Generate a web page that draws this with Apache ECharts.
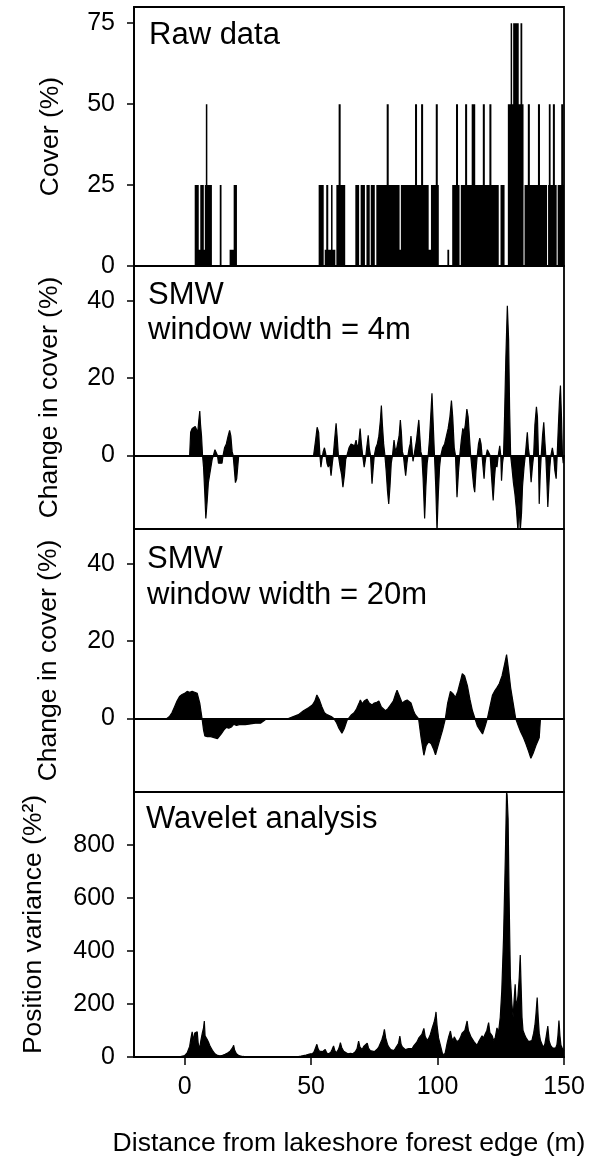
<!DOCTYPE html>
<html>
<head>
<meta charset="utf-8">
<script src="https://cdn.jsdelivr.net/npm/echarts@6/dist/echarts.min.js"></script>
<style>
html,body{margin:0;padding:0;background:#fff;}
#chart{width:589px;height:1162px;}
</style>
</head>
<body>
<div id="chart"></div>
<script>
// ---- axis ticks / labels ----
const distanceTicks = [0, 50, 100, 150];
const coverTicks = [0, 25, 50, 75];
const changeTicks = [0, 20, 40];
const varianceTicks = [0, 200, 400, 600, 800];
const xLabel = 'Distance from lakeshore forest edge (m)';
const yLabels = ['Cover (%)', 'Change in cover (%)', 'Change in cover (%)', 'Position variance (%\u00B2)'];
const panelTitles = [['Raw data'], ['SMW', 'window width = 4m'], ['SMW', 'window width = 20m'], ['Wavelet analysis']];

// ---- raw cover data: [distance where cover class starts, cover %] (held until next entry) ----
const rawCover = [[0,0],[4,25],[5.6,5],[6.2,25],[7.6,5],[8.0,25],[8.4,50],[9.0,25],[10.8,0],[13.9,25],[14.6,0],[17.8,5],[19.4,25],[20.7,0],
[53.0,25],[55.0,0],[55.4,5],[56.0,25],[56.8,5],[57.9,25],[58.5,5],[59.6,0],[60.0,25],[60.9,50],[61.7,25],[63.5,0],
[67.5,25],[69.0,0],[69.6,25],[71.3,0],[71.9,25],[73.2,0],[73.6,25],[75.2,0],[75.8,25],[79.9,50],[80.7,25],[85.0,5],[85.5,25],[91.1,50],[91.9,25],[93.5,50],[94.3,25],[96.5,5],[97.4,25],[99.3,50],[100.1,25],[100.5,0],[103.9,5],[104.6,0],[105.8,25],[107.3,50],[108.1,25],[108.7,0],[109.2,25],[110.9,50],[111.7,25],[113.5,50],[114.9,25],[117.9,50],[118.7,25],[120.5,50],[121.3,25],[124.2,0],[124.9,25],[126.5,0],[127.8,50],[128.9,75],[129.5,50],[129.9,75],[132.1,50],[132.8,75],[133.5,50],[134.0,0],[134.4,25],[135.7,50],[136.5,25],[139.7,50],[140.5,25],[143.3,0],[143.7,25],[144.0,50],[144.7,25],[145.6,50],[146.4,25],[147.1,0],[147.5,25],[148.9,50],[149.7,25],[150,25]];

// ---- SMW, window width 4 m: [distance, change in cover %] ----
const smw4m = [[-20,0],[2.0,0],[2.4,6],[3.0,7],[3.6,6.5],[4.2,7.5],[4.8,8],[5.2,6],[5.6,9],[6.0,11.5],[6.3,8],[6.7,5],[7.1,0],[7.5,-3],[8.0,-10],[8.4,-16.3],[8.9,-12],[9.4,-7],[9.9,-5],[10.4,-3],[10.9,-1],[11.4,0],[12.0,1.5],[12.6,1.5],[13.0,0],[13.4,-2],[14.0,-2],[14.8,-2],[15.2,0],[15.8,2],[16.5,3],[17.2,5],[17.8,6.5],[18.3,5],[18.8,1],[19.2,0],[19.6,-3],[20.1,-7],[20.6,-6],[21.0,-3],[21.4,0],
[51.0,0],[51.8,4],[52.4,7.3],[53.0,6],[53.5,0],[53.9,-3],[54.3,-1],[54.8,1],[55.3,2],[55.8,0.5],[56.3,-2],[56.8,-3],[57.4,-2],[57.9,-5.2],[58.4,-2],[58.8,0],[59.3,4],[59.9,8.3],[60.3,5],[60.8,0],[61.5,-3],[62.1,-5],[62.6,-8.2],[63.2,-5],[63.7,-1],[64.2,0],[65.0,2],[65.8,3],[66.5,3],[67.2,2.5],[67.8,4],[68.3,2],[68.8,3],[69.4,7],[69.9,3],[70.4,0],[71.0,-3],[71.5,-1],[72.0,2],[72.6,5.2],[73.0,2],[73.5,0],[74.1,-7.3],[74.6,-3],[75.0,0],[75.6,2],[76.2,3],[76.8,5],[77.4,9],[77.8,12.9],[78.2,8],[78.7,3],[79.2,0],[79.7,-4],[80.2,-9],[80.7,-12.5],[81.2,-8],[81.7,-2],[82.2,0],[82.8,4],[83.2,2],[83.6,1],[84.2,3],[84.8,5],[85.3,9.2],[85.7,6],[86.1,1],[86.5,0],[87.0,-3],[87.4,-5.2],[87.9,-2],[88.3,0],[88.8,2],[89.2,3],[89.5,5],[89.9,2],[90.3,-1.5],[90.7,0],[91.2,2],[91.7,4],[92.2,7],[92.6,9.2],[93.0,5],[93.4,1],[93.8,0],[94.3,-6],[94.9,-16.3],[95.4,-8],[95.9,-2],[96.3,0],[96.8,4],[97.3,10],[97.8,16.1],[98.3,8],[98.8,0],[99.3,-8],[99.8,-19.5],[100.3,-10],[100.8,-3],[101.3,0],[102.0,2],[102.8,3],[103.5,5],[104.2,7],[104.9,10],[105.5,14.2],[106.0,10],[106.6,2],[107.1,0],[107.7,-10.8],[108.3,-4],[108.8,0],[109.4,4],[110.0,7],[110.5,6],[111.0,8],[111.6,12],[112.1,10],[112.6,5],[113.1,0],[113.7,-4],[114.3,-8],[114.7,-9.5],[115.2,-4],[115.7,0],[116.2,3],[116.7,4.5],[117.2,3],[117.6,0],[118.0,-3],[118.4,-6],[118.8,-2],[119.2,0],[119.7,1.5],[120.3,1],[120.8,0],[121.4,-6],[122.0,-11.6],[122.5,-6],[123.0,-2],[123.5,-3],[124.0,0],[124.6,2.5],[125.0,0],[125.3,-6.5],[125.7,-2],[126.1,0],[126.5,10],[127.0,25],[127.6,38.7],[128.1,30],[128.5,12],[128.9,0],[129.4,-3],[130.0,-7],[130.6,-10],[131.2,-14],[131.8,-19.5],[132.2,-12],[132.7,-19.5],[133.2,-15],[133.6,-8],[134.2,-3],[134.7,0],[135.1,3],[135.5,6],[135.9,2],[136.3,0],[137.0,-6.9],[137.5,-3],[138.0,0],[138.5,8],[139.1,12.6],[139.5,10],[139.9,0],[140.2,-12.5],[140.6,-5],[141.0,0],[141.5,5],[142.0,8.6],[142.4,4],[142.8,0],[143.2,-6],[143.6,-13.3],[144.0,-8],[144.4,-3],[144.8,0],[145.4,2],[145.9,0],[146.4,-4],[146.9,-6],[147.3,0],[147.8,8],[148.2,14],[148.6,18.1],[149.0,10],[149.4,0],[149.7,-2],[150,0]];

// ---- SMW, window width 20 m ----
const smw20m = [[-20,0],[-7,0],[-6,0.5],[-5,1.5],[-4,3],[-3,4.5],[-2,5.7],[-1,6.2],[0,6.5],[1,7],[2,6.8],[3,7],[4,6.8],[5,6.5],[6,4],[6.9,0],[7.5,-3],[8,-4.5],[9,-4.7],[10,-4.6],[11,-4.8],[12,-5],[13,-5.2],[13.5,-5.4],[14.5,-4],[15.5,-3],[16.5,-2.3],[17.5,-2.5],[18.5,-2.2],[19.4,-1.5],[20.5,-1.8],[22,-1.5],[24,-1.6],[26,-1.4],[28,-1.2],[30,-1.2],[31.5,-0.5],[32.5,0],[41,0],[43,0.5],[45,1],[47,2],[49,2.8],[50.5,3.5],[51.5,4.5],[52.3,6.1],[53.2,5],[54.3,3],[55.3,1.5],[56.3,1],[58,0.5],[59,0],[60,-1],[61,-2.5],[62.2,-3.8],[63.2,-2.5],[64.2,-0.5],[64.9,0],[66,1],[67,1.5],[68,2.5],[69,4],[69.5,4.8],[70.2,3.8],[71,4.5],[72.1,5],[73,4],[74.1,3.5],[75,4],[76,4.2],[76.8,4.5],[77.8,3],[79.4,2],[80.3,2.5],[81.4,3.5],[82.5,4.5],[83.5,6.5],[84,7.3],[84.8,6],[86,4],[87,4.5],[88,4.8],[88.6,5],[89.5,4],[90.5,2],[91.2,1],[92.5,0],[93.5,-5],[94.6,-9.5],[95.5,-7],[96.5,-6],[97.5,-6.5],[98.5,-8],[99.2,-9.4],[100,-7.5],[101.1,-5],[102,-3],[103.1,0],[104,4],[105.1,7],[106,6.5],[107.1,5.5],[108,7],[109,9.5],[109.8,11.6],[110.7,11],[111.8,8.5],[112.8,5],[113.8,2],[114.8,0],[115.8,-2],[116.8,-3],[117.8,-4],[118.8,-2],[119.7,0],[120.7,3],[121.7,6],[122.5,7],[123.5,8],[124.4,9],[125.5,11],[126.5,14],[127.3,16.5],[128.2,12],[128.9,8],[129.9,4],[130.9,0],[132,-2],[132.9,-3.5],[134,-5],[134.9,-6.5],[136,-8.5],[136.9,-10.3],[137.8,-9],[138.9,-7],[139.5,-6.5],[140.2,-5],[140.7,0],[150,0]];

// ---- wavelet position variance ----
const waveletVar = [[-20,0],[-4,0],[-2,1],[0,5],[1,15],[2,40],[2.5,70],[3,95],[3.4,100],[3.7,60],[4.0,90],[4.5,85],[5.0,95],[5.4,50],[5.9,30],[6.4,60],[7.0,90],[7.5,110],[7.8,136],[8.1,80],[8.6,75],[9.0,65],[9.5,55],[10.1,40],[11,25],[12,12],[13,6],[14,4],[15,6],[16,10],[17,15],[18,22],[19,35],[19.4,44],[19.8,25],[20.5,12],[21.5,5],[23,2],[25,0],
[44,0],[46,3],[48,7],[49.7,12],[50.5,12],[51.2,20],[51.7,25],[52.3,48],[52.8,30],[53.3,22],[53.8,16],[54.5,20],[55.2,24],[55.6,28],[56.2,15],[57,12],[57.8,18],[58.3,28],[58.9,42],[59.4,24],[60,16],[60.8,28],[61.3,42],[61.6,54],[62.1,36],[62.9,22],[63.6,15],[64.5,12],[65.6,14],[66.5,12],[67.5,20],[68.2,32],[68.8,60],[69.3,38],[69.8,32],[70.2,28],[70.8,40],[71.5,46],[72.2,52],[72.7,34],[73.4,24],[74.1,24],[75,20],[76,28],[76.7,36],[77.4,42],[78,65],[78.6,85],[79,104],[79.5,72],[80.2,48],[80.7,38],[81.5,28],[82.2,24],[82.7,24],[83.3,32],[84,38],[84.6,52],[85.1,79],[85.6,48],[86.1,38],[86.6,32],[87.3,28],[88,35],[88.6,32],[89.3,38],[90,32],[90.6,42],[91.2,48],[91.8,56],[92.6,72],[93.2,66],[93.8,85],[94.3,90],[94.6,108],[95.1,78],[95.9,62],[96.6,72],[97.2,86],[97.9,110],[98.6,130],[99.1,150],[99.4,170],[99.8,120],[100.4,72],[101.2,42],[101.8,18],[102.5,5],[103.1,18],[103.8,52],[104.4,76],[105.1,98],[105.6,72],[106.2,62],[106.6,76],[107.1,82],[107.6,58],[108.4,62],[109,72],[109.7,90],[110.3,86],[110.8,100],[111.3,120],[111.7,136],[112.2,100],[112.8,86],[113.2,76],[113.7,72],[114.4,58],[115,52],[115.6,44],[116.2,56],[116.8,62],[117.6,80],[118.2,72],[118.8,86],[119.5,100],[120.2,130],[120.7,92],[121.1,86],[121.6,80],[122.2,62],[122.8,72],[123.5,110],[124.1,92],[124.8,150],[125.4,250],[126.1,450],[126.8,750],[127.3,1000],[127.5,990],[127.9,900],[128.3,600],[128.8,300],[129.4,200],[129.9,150],[130.3,220],[130.7,274],[131.0,210],[131.4,200],[131.8,230],[132.3,300],[132.7,385],[133.1,250],[133.4,150],[133.8,100],[134.4,85],[135,72],[135.4,79],[136,58],[136.7,52],[137.3,62],[138,90],[138.5,120],[138.9,160],[139.4,224],[139.8,150],[140.2,90],[140.7,62],[141.3,48],[142,36],[142.5,52],[143,80],[143.6,117],[144.1,62],[144.7,44],[145.5,34],[146.2,38],[146.7,34],[147.2,46],[147.6,80],[148,138],[148.4,80],[148.8,44],[149.3,34],[150,24]];

// ---- axis ranges ----
const xRange = [-20, 150];
const yRanges = [[0, 80], [-19, 49], [-19, 49], [0, 1000]];
const yTickSets = [coverTicks, changeTicks, changeTicks, varianceTicks];

// ---- layout / style ----
const FONT = 'Liberation Sans';
const TICK_FS = 25, NAME_FS = 26.5, TITLE_FS = 31;
const gridBoxes = [
  {top: 7, height: 259},
  {top: 266, height: 263},
  {top: 529, height: 263},
  {top: 792, height: 265}
];
const nameGaps = [70, 71, 72, 87];
const titlePos = [
  [[149, 35]],
  [[148, 295], [148, 330]],
  [[147, 559], [147, 595]],
  [[146, 819]]
];

const chart = echarts.init(document.getElementById('chart'), null, {renderer: 'canvas'});

const grids = gridBoxes.map(b => ({
  left: 134, right: 25, top: b.top, height: b.height,
  show: true, borderColor: '#000', borderWidth: 1.8, backgroundColor: 'transparent',
  containLabel: false
}));

const xAxes = gridBoxes.map((b, i) => {
  const last = i === gridBoxes.length - 1;
  return {
    type: 'value', gridIndex: i, min: xRange[0], max: xRange[1],
    splitLine: {show: false},
    axisLine: {show: true, onZero: true, lineStyle: {color: '#000', width: 1.8}},
    axisTick: {show: last, length: 8, inside: false, customValues: distanceTicks, lineStyle: {color: '#000', width: 1.5}},
    axisLabel: {show: last, customValues: distanceTicks, margin: 18, color: '#000', fontFamily: FONT, fontSize: TICK_FS},
    name: last ? xLabel : '',
    nameLocation: 'middle', nameGap: 73,
    nameTextStyle: {color: '#000', fontFamily: FONT, fontSize: NAME_FS}
  };
});

const yAxes = gridBoxes.map((b, i) => ({
  type: 'value', gridIndex: i, min: yRanges[i][0], max: yRanges[i][1],
  splitLine: {show: false},
  axisLine: {show: true, onZero: false, lineStyle: {color: '#000', width: 1.8}},
  axisTick: {show: true, length: 7, customValues: yTickSets[i], lineStyle: {color: '#000', width: 1.5}},
  axisLabel: {customValues: yTickSets[i], margin: 19, color: '#000', fontFamily: FONT, fontSize: TICK_FS},
  name: yLabels[i], nameLocation: 'middle', nameGap: nameGaps[i],
  nameTextStyle: {color: '#000', fontFamily: FONT, fontSize: NAME_FS}
}));

// raw cover: one filled step outline, every vertex mapped through the axes
const rawSeries = {
  type: 'custom', xAxisIndex: 0, yAxisIndex: 0, data: [0], silent: true, clip: true,
  renderItem: function (params, api) {
    const pts = [api.coord([rawCover[0][0], 0])];
    for (let i = 0; i < rawCover.length; i++) {
      const prev = i > 0 ? rawCover[i - 1][1] : 0;
      pts.push(api.coord([rawCover[i][0], prev]));
      pts.push(api.coord([rawCover[i][0], rawCover[i][1]]));
    }
    pts.push(api.coord([rawCover[rawCover.length - 1][0], 0]));
    return {type: 'polygon', shape: {points: pts}, style: {fill: '#000'}};
  }
};

const series = [rawSeries].concat([smw4m, smw20m, waveletVar].map((d, k) => ({
  type: 'line', xAxisIndex: k + 1, yAxisIndex: k + 1, data: d,
  symbol: 'none', silent: true, clip: true,
  lineStyle: {color: '#000', width: 1.2},
  areaStyle: {color: '#000', opacity: 1, origin: 0}
})));

const graphics = [];
panelTitles.forEach((lines, i) => {
  lines.forEach((t, j) => {
    graphics.push({
      type: 'text', x: titlePos[i][j][0], y: titlePos[i][j][1],
      style: {text: t, fill: '#000', font: TITLE_FS + 'px "' + FONT + '"', textAlign: 'left', textVerticalAlign: 'middle'},
      silent: true
    });
  });
});

chart.setOption({
  animation: false,
  backgroundColor: '#fff',
  grid: grids,
  xAxis: xAxes,
  yAxis: yAxes,
  series: series,
  graphic: graphics
});
</script>
</body>
</html>
